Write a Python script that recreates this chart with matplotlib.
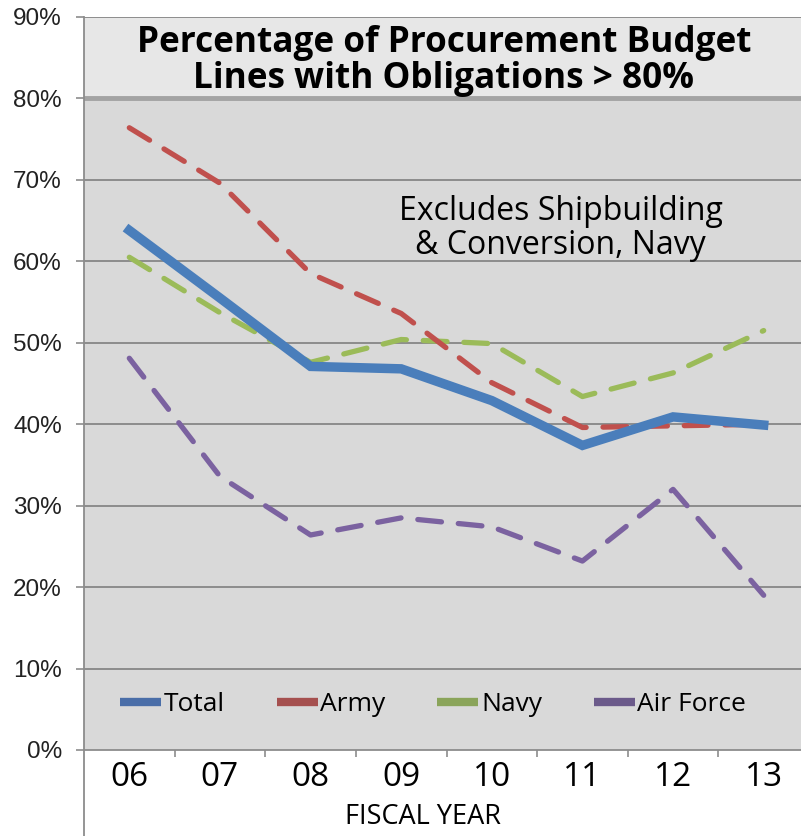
import matplotlib.pyplot as plt
from matplotlib.lines import Line2D

# valores (porcentaje)
YEARS = ['06', '07', '08', '09', '10', '11', '12', '13']
TOTAL = [63.8, 55.5, 47.1, 46.8, 42.9, 37.4, 40.9, 39.9]
ARMY = [76.4, 69.6, 58.5, 53.6, 45.1, 39.6, 39.8, 40.0]
NAVY = [60.5, 53.7, 47.6, 50.4, 49.9, 43.4, 46.3, 51.5]
AIR_FORCE = [48.1, 33.6, 26.4, 28.5, 27.4, 23.2, 32.0, 19.0]
Y_TICKS = [0, 10, 20, 30, 40, 50, 60, 70, 80, 90]

TITLE = 'Percentage of Procurement Budget\nLines with Obligations > 80%'
NOTE = 'Excludes Shipbuilding\n& Conversion, Navy'

CALIBRI = 'Open Sans'

fig = plt.figure(figsize=(8.01, 8.36), dpi=100)
ax = fig.add_axes([84 / 801, 1 - 750 / 836, 725 / 801, (750 - 17) / 836])
ax.set_facecolor('#d9d9d9')

x = list(range(len(YEARS)))

# caja del título entre 80% y 90%
ax.axhspan(80, 90, color='#e7e7e7', zorder=0.5, lw=0)
for v in Y_TICKS[1:]:
    ax.axhline(v, color='#868686', lw=1.3, zorder=1)
ax.axhline(80, color='#a3a3a3', lw=3.5, zorder=1.1)

dash = dict(dashes=(4.5, 3.2), dash_capstyle='round', lw=3.8)
ax.plot(x, AIR_FORCE, color='#7b62a0', label='Air Force', zorder=3, **dash)
ax.plot(x, NAVY, color='#9bbb59', label='Navy', zorder=3, **dash)
ax.plot(x, ARMY, color='#c0504d', label='Army', zorder=3, **dash)
ax.plot(x, TOTAL, color='#4a7ebb', lw=6.8, label='Total', zorder=4,
        solid_joinstyle='miter')

ax.set_xlim(-0.5, len(YEARS) - 0.5)
ax.set_ylim(0, 90)

ax.set_yticks(Y_TICKS)
ax.set_yticklabels([f'{v}%' for v in Y_TICKS], family='Liberation Sans',
                   fontsize=17.5, color='#222222')
ax.tick_params(axis='y', length=6, width=1.2, color='#8c8c8c', pad=10)

ax.set_xticks(x)
ax.set_xticklabels(YEARS, family=CALIBRI, fontsize=24)
ax.set_xticks([i + 0.5 for i in x[:-1]], minor=True)
ax.tick_params(axis='x', which='major', length=0, pad=8)
ax.tick_params(axis='x', which='minor', length=5, width=1.2, color='#8c8c8c')

for s in ['top', 'right']:
    ax.spines[s].set_visible(False)
ax.spines['left'].set_color('#8c8c8c')
ax.spines['left'].set_linewidth(1.3)
ax.spines['bottom'].set_color('#8c8c8c')
ax.spines['bottom'].set_linewidth(1.3)
# la línea izquierda sigue por debajo del eje
ax.add_line(Line2D([0, 0], [0, -0.15], transform=ax.transAxes,
                   color='#8c8c8c', lw=1.3, clip_on=False))

ax.set_xlabel('FISCAL YEAR', family=CALIBRI, fontsize=19.5)
ax.xaxis.set_label_coords((423 - 84) / 725, -(817 - 750) / 733, transform=ax.transAxes)
ax.xaxis.label.set_va('center')

ax.text(3.47, 84.6, TITLE, ha='center', va='center', family=CALIBRI,
        fontsize=25.3, fontweight='bold', linespacing=0.98, zorder=5)
ax.text(4.76, 64.05, NOTE, ha='center', va='center', family=CALIBRI,
        fontsize=23, multialignment='center', linespacing=1.03, zorder=5)

h, l = ax.get_legend_handles_labels()
order = [3, 2, 1, 0]
leg = ax.legend([h[i] for i in order], [l[i] for i in order], ncol=4,
                loc='center left', bbox_to_anchor=((120 - 84) / 725, 5.6 / 90),
                frameon=False, prop={'family': CALIBRI, 'size': 19},
                handlelength=1.55, handletextpad=0.1, columnspacing=1.97,
                borderaxespad=0, borderpad=0)
for hd, c in zip(leg.legend_handles, ['#4a6ea8', '#a5504f', '#8aa45a', '#6b5a8a']):
    hd.set_color(c)
    hd.set_linestyle('-')
    hd.set_linewidth(6)
    hd.set_solid_capstyle('butt')

fig.savefig('out.png', dpi=100)
